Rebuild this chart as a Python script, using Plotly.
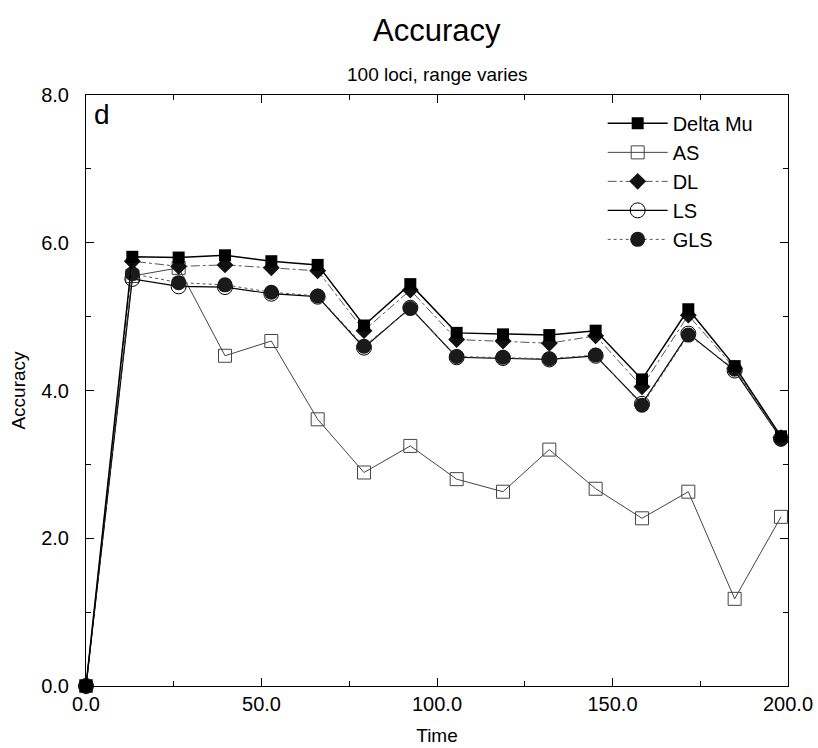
import plotly.graph_objects as go

time = [0, 13.2, 26.4, 39.6, 52.8, 66.0, 79.2, 92.4, 105.6, 118.8, 132.0, 145.2, 158.4, 171.6, 184.8, 198.0]

delta_mu = [0, 5.81, 5.80, 5.83, 5.75, 5.70, 4.88, 5.44, 4.78, 4.76, 4.75, 4.81, 4.15, 5.10, 4.33, 3.38]
as_vals  = [0, 5.55, 5.66, 4.47, 4.67, 3.61, 2.89, 3.25, 2.80, 2.63, 3.20, 2.67, 2.27, 2.63, 1.18, 2.29]
dl_vals  = [0, 5.75, 5.68, 5.70, 5.66, 5.62, 4.81, 5.36, 4.69, 4.67, 4.64, 4.74, 4.05, 5.02, 4.30, 3.36]
ls_vals  = [0, 5.51, 5.41, 5.40, 5.31, 5.27, 4.58, 5.12, 4.45, 4.44, 4.42, 4.47, 3.82, 4.77, 4.27, 3.35]
gls_vals = [0, 5.58, 5.46, 5.43, 5.33, 5.28, 4.60, 5.11, 4.46, 4.45, 4.43, 4.48, 3.80, 4.75, 4.29, 3.34]

legend_order = ["Delta Mu", "AS", "DL", "LS", "GLS"]

FONT = "Liberation Sans, Arial, Helvetica, sans-serif"

fig = go.Figure()
fig.add_trace(go.Scatter(x=time, y=as_vals, name="AS", mode="lines+markers",
                         line=dict(color="#444444", width=1),
                         marker=dict(symbol="square-open", size=13, color="#444444", line=dict(width=1)),
                         cliponaxis=False))
fig.add_trace(go.Scatter(x=time, y=ls_vals, name="LS", mode="lines+markers",
                         line=dict(color="black", width=1.2),
                         marker=dict(symbol="circle-open", size=15, color="black", line=dict(width=1)),
                         cliponaxis=False))
fig.add_trace(go.Scatter(x=time, y=gls_vals, name="GLS", mode="lines+markers",
                         line=dict(color="#555555", width=1, dash="dot"),
                         marker=dict(symbol="circle", size=15, color="#1a1a1a"),
                         cliponaxis=False))
fig.add_trace(go.Scatter(x=time, y=dl_vals, name="DL", mode="lines+markers",
                         line=dict(color="#555555", width=1, dash="dashdot"),
                         marker=dict(symbol="diamond", size=13, color="#111111"),
                         cliponaxis=False))
fig.add_trace(go.Scatter(x=time, y=delta_mu, name="Delta Mu", mode="lines+markers",
                         line=dict(color="black", width=1.5),
                         marker=dict(symbol="square", size=12, color="black"),
                         cliponaxis=False))

for tr in fig.data:
    tr.legendrank = legend_order.index(tr.name) + 1

fig.update_layout(
    width=818, height=748,
    margin=dict(l=86, r=30, t=95, b=62, autoexpand=False),
    paper_bgcolor="white", plot_bgcolor="white",
    font=dict(family=FONT, color="black", size=20),
    showlegend=True,
    legend=dict(x=0.736, y=0.985, xanchor="left", yanchor="top",
                traceorder="normal", itemwidth=60, bgcolor="rgba(0,0,0,0)",
                font=dict(size=20), tracegroupgap=0),
)

fig.add_annotation(text="Accuracy", xref="paper", yref="paper", x=0.5, y=1.0, yshift=65,
                   showarrow=False, font=dict(size=31), xanchor="center", yanchor="middle")
fig.add_annotation(text="100 loci, range varies", xref="paper", yref="paper", x=0.5, y=1.0, yshift=21,
                   showarrow=False, font=dict(size=19), xanchor="center", yanchor="middle")
fig.add_annotation(text="d", xref="paper", yref="paper", x=0.0, y=1.0, xshift=6, yshift=-2,
                   showarrow=False, font=dict(size=28), xanchor="left", yanchor="top")

fig.update_xaxes(range=[0, 200], tickvals=[0, 50, 100, 150, 200], tickformat=".1f",
                 automargin=False,
                 ticks="inside", ticklen=8, tickcolor="black", showline=True, linecolor="black",
                 linewidth=1, mirror="ticks", showgrid=False, zeroline=False,
                 minor=dict(ticks="inside", dtick=25, ticklen=5, tickcolor="black", showgrid=False),
                 title=dict(text="Time", font=dict(size=19), standoff=14),
                 tickfont=dict(size=20))
fig.update_yaxes(range=[0, 8], tickvals=[0, 2, 4, 6, 8], tickformat=".1f",
                 automargin=False,
                 ticks="inside", ticklen=8, tickcolor="black", showline=True, linecolor="black",
                 linewidth=1, mirror="ticks", showgrid=False, zeroline=False,
                 ticklabelstandoff=12,
                 minor=dict(ticks="inside", dtick=1, ticklen=5, tickcolor="black", showgrid=False),
                 title=dict(text="Accuracy", font=dict(size=19), standoff=10),
                 tickfont=dict(size=20))

fig.write_html("out.html")
